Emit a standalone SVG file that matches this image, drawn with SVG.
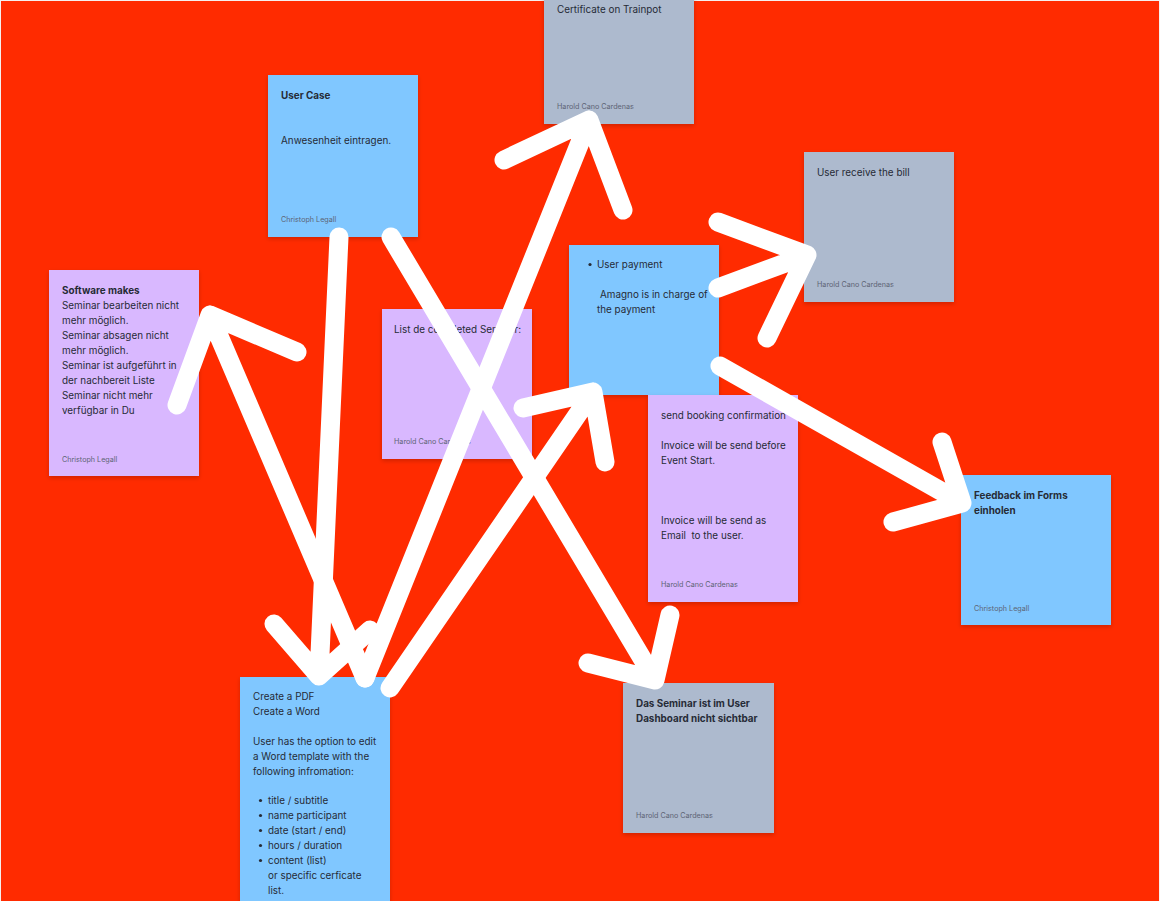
<svg xmlns="http://www.w3.org/2000/svg" width="1160" height="901" viewBox="0 0 1160 901">
<defs>
<filter id="sh" x="-10%" y="-10%" width="120%" height="125%">
<feDropShadow dx="0" dy="2" stdDeviation="2" flood-color="#000" flood-opacity="0.18"/>
</filter>
<style>
.blue{fill:#80C7FF}
.purple{fill:#D9B8FF}
.gray{fill:#ADBACE}
.t{font-family:Inter,"Liberation Sans",sans-serif;font-size:9.9px;fill:#262b36}
.b{font-weight:700}
.f{font-family:Inter,"Liberation Sans",sans-serif;font-size:7.2px;fill:#5d6475}
.c{fill:none;stroke:#fff;stroke-width:19;stroke-linecap:round;stroke-linejoin:round}
</style>
</defs>
<rect x="0" y="0" width="1160" height="901" fill="#FF2B00"/>
<path d="M0 0.5H1160M0.5 0V901M1159.5 0V901" stroke="#f6f0ee" stroke-width="1" fill="none"/>

<g id="node-user-case">
<rect class="blue" x="268" y="75" width="150" height="162" filter="url(#sh)"/>
<text class="t b" x="281" y="98.5">User Case</text>
<text class="t" x="281" y="143.5">Anwesenheit eintragen.</text>
<text class="f" x="281" y="222">Christoph Legall</text>
</g>

<g id="node-software-makes">
<rect class="purple" x="49" y="270" width="150" height="206" filter="url(#sh)"/>
<text class="t" x="62" y="293.5"><tspan class="b">Software makes</tspan><tspan x="62" dy="15">Seminar bearbeiten nicht</tspan><tspan x="62" dy="15">mehr möglich.</tspan><tspan x="62" dy="15">Seminar absagen nicht</tspan><tspan x="62" dy="15">mehr möglich.</tspan><tspan x="62" dy="15">Seminar ist aufgeführt in</tspan><tspan x="62" dy="15">der nachbereit Liste</tspan><tspan x="62" dy="15">Seminar nicht mehr</tspan><tspan x="62" dy="15">verfügbar in Du</tspan></text>
<text class="f" x="62" y="462">Christoph Legall</text>
</g>

<g id="node-list-completed">
<rect class="purple" x="382" y="309" width="150" height="150" filter="url(#sh)"/>
<text class="t" x="394" y="332.5">List de completed Seminar:</text>
<text class="f" x="394" y="444">Harold Cano Cardenas</text>
</g>

<g id="node-certificate">
<rect class="gray" x="544" y="-30" width="150" height="154" filter="url(#sh)"/>
<text class="t" x="557" y="12.5">Certificate on Trainpot</text>
<text class="f" x="557" y="109">Harold Cano Cardenas</text>
</g>

<g id="node-user-bill">
<rect class="gray" x="804" y="152" width="150" height="150" filter="url(#sh)"/>
<text class="t" x="817" y="175.5">User receive the bill</text>
<text class="f" x="817" y="287">Harold Cano Cardenas</text>
</g>

<g id="node-user-payment">
<rect class="blue" x="569" y="245" width="150" height="150" filter="url(#sh)"/>
<circle cx="590" cy="264.5" r="1.6" fill="#262b36"/>
<text class="t" x="597" y="268">User payment</text>
<text class="t" x="600" y="298">Amagno is in charge of</text>
<text class="t" x="597" y="313">the payment</text>
</g>

<g id="node-booking">
<rect class="purple" x="648" y="395" width="150" height="207" filter="url(#sh)"/>
<text class="t" x="661" y="418.5">send booking confirmation</text>
<text class="t" x="661" y="448.5">Invoice will be send before</text>
<text class="t" x="661" y="463.5">Event Start.</text>
<text class="t" x="661" y="523.5">Invoice will be send as</text>
<text class="t" x="661" y="538.5" xml:space="preserve">Email  to the user.</text>
<text class="f" x="661" y="587">Harold Cano Cardenas</text>
</g>

<g id="node-feedback">
<rect class="blue" x="961" y="475" width="150" height="150" filter="url(#sh)"/>
<text class="t b" x="974" y="498.5">Feedback im Forms</text>
<text class="t b" x="974" y="513.5">einholen</text>
<text class="f" x="974" y="611">Christoph Legall</text>
</g>

<g id="node-dashboard">
<rect class="gray" x="623" y="683" width="151" height="150" filter="url(#sh)"/>
<text class="t b" x="636" y="706.5">Das Seminar ist im User</text>
<text class="t b" x="636" y="721.5">Dashboard nicht sichtbar</text>
<text class="f" x="636" y="818">Harold Cano Cardenas</text>
</g>

<g id="node-create-pdf">
<rect class="blue" x="240" y="677" width="150" height="240" filter="url(#sh)"/>
<text class="t" x="253" y="699.5">Create a PDF</text>
<text class="t" x="253" y="714.5">Create a Word</text>
<text class="t" x="253" y="744.5">User has the option to edit</text>
<text class="t" x="253" y="759.5">a Word template with the</text>
<text class="t" x="253" y="774.5">following infromation:</text>
<g fill="#262b36">
<circle cx="260.5" cy="800.5" r="1.6"/>
<circle cx="260.5" cy="815.5" r="1.6"/>
<circle cx="260.5" cy="830.5" r="1.6"/>
<circle cx="260.5" cy="845.5" r="1.6"/>
<circle cx="260.5" cy="860.5" r="1.6"/>
</g>
<text class="t" x="268" y="803.5">title / subtitle</text>
<text class="t" x="268" y="818.5">name participant</text>
<text class="t" x="268" y="833.5">date (start / end)</text>
<text class="t" x="268" y="848.5">hours / duration</text>
<text class="t" x="268" y="863.5">content (list)</text>
<text class="t" x="268" y="878.5">or specific cerficate</text>
<text class="t" x="268" y="893.5">list.</text>
</g>

<g id="connectors" class="c">
<path d="M339 237L319 676M274 624L319 676L370 630"/>
<path d="M365 678L210 315M177 405L210 315L297 352"/>
<path d="M365 678L589 120M504 160L589 120L623 210"/>
<path d="M390 688L593 392M523 408L593 392L605 462"/>
<path d="M391 237L655 680M588 663L655 680L670 615"/>
<path d="M718 288L807 255M718 222L807 255L767 338"/>
<path d="M720 366L962 503M942 442L962 503L893 522"/>
</g>
</svg>
